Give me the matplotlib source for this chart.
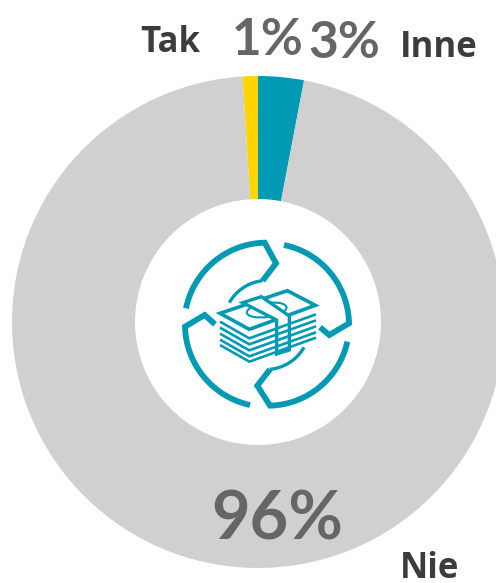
import numpy as np
import matplotlib
matplotlib.use('Agg')
import matplotlib.pyplot as plt
from matplotlib.patches import Polygon, Ellipse

# dane
labels = ['Inne', 'Nie', 'Tak']
values = [3, 96, 1]
colors = ['#009ab5', '#d0d0d0', '#ffd500']

TEAL = '#009ab5'
W, H = 496, 583

fig = plt.figure(figsize=(W / 100, H / 100), dpi=100)
ax = fig.add_axes([0, 0, 1, 1])
ax.set_xlim(0, W)
ax.set_ylim(H, 0)
ax.axis('off')

# os y jest odwrocona, wiec kat startowy i kierunek sa lustrzane
ax.pie(values, colors=colors, center=(258, 322), radius=246,
       startangle=-90, counterclock=True,
       wedgeprops=dict(width=123, linewidth=0), frame=False)
ax.set_xlim(0, W)
ax.set_ylim(H, 0)
ax.set_aspect('auto')


# ikona: wspolrzedne w pikselach po powiekszeniu x3
def p(x, y):
    return 170 + x / 3, 230 + y / 3


def arc(p0, p1, c=(292, 283), n=40):
    a0 = np.arctan2(p0[1] - c[1], p0[0] - c[0])
    a1 = np.arctan2(p1[1] - c[1], p1[0] - c[0])
    if a1 < a0:
        a1 += 2 * np.pi
    r0 = np.hypot(p0[0] - c[0], p0[1] - c[1])
    r1 = np.hypot(p1[0] - c[0], p1[1] - c[1])
    t = np.linspace(0, 1, n)
    a = a0 + (a1 - a0) * t
    r = r0 + (r1 - r0) * t
    return list(zip(c[0] + r * np.cos(a), c[1] + r * np.sin(a)))


def line(points, lw=4.2, **kw):
    xs, ys = zip(*[p(*q) for q in points])
    ax.plot(xs, ys, color=TEAL, lw=lw, solid_capstyle='butt',
            solid_joinstyle='miter', **kw)


line(arc((48, 235), (284, 38)) + [(318, 100), (278, 152)])
line(arc((342, 45), (537, 280)) + [(478, 315), (450, 292)])
line(arc((532, 335), (300, 527)) + [(262, 467), (300, 418)])
line(arc((240, 525), (45, 290)) + [(104, 255), (135, 283)])
line(arc((178, 218), (278, 152)), lw=2.4)
line(arc((402, 352), (300, 418)), lw=2.4)

# stos banknotow
for dy in [25, 43, 61, 79, 95]:
    line([(150, 250 + dy), (238, 300 + dy), (438, 228 + dy)], lw=1.9)
top = [p(150, 250), p(352, 182), p(436, 226), p(238, 298)]
ax.add_patch(Polygon(top, closed=True, fc='white', ec=TEAL, lw=2.6))
cx, cy = p(290, 240)
ax.add_patch(Ellipse((cx, cy), 40, 14, angle=-8, fc='white', ec=TEAL, lw=1.5))
strap = [p(218, 218), p(274, 200), p(358, 258), p(358, 360), p(320, 372), p(320, 270)]
ax.add_patch(Polygon(strap, closed=True, fc='white', ec=TEAL, lw=2.4))

# teksty
pct_font = ['Lato', 'DejaVu Sans']
font = ['Open Sans', 'DejaVu Sans']
ax.text(232, 55, '1%', fontsize=37, fontweight='bold', color='#666666', family=pct_font)
ax.text(308, 58, '3%', fontsize=37, fontweight='bold', color='#666666', family=pct_font)
ax.text(211, 540, '96%', fontsize=48, fontweight='bold', color='#666666', family=pct_font)
ax.text(140, 52, 'Tak', fontsize=25, fontweight='bold', color='#3c3c3b', family=font)
ax.text(400, 57, 'Inne', fontsize=25, fontweight='bold', color='#3c3c3b', family=font)
ax.text(400, 578, 'Nie', fontsize=25, fontweight='bold', color='#3c3c3b', family=font)

fig.savefig('out.png', dpi=100)
